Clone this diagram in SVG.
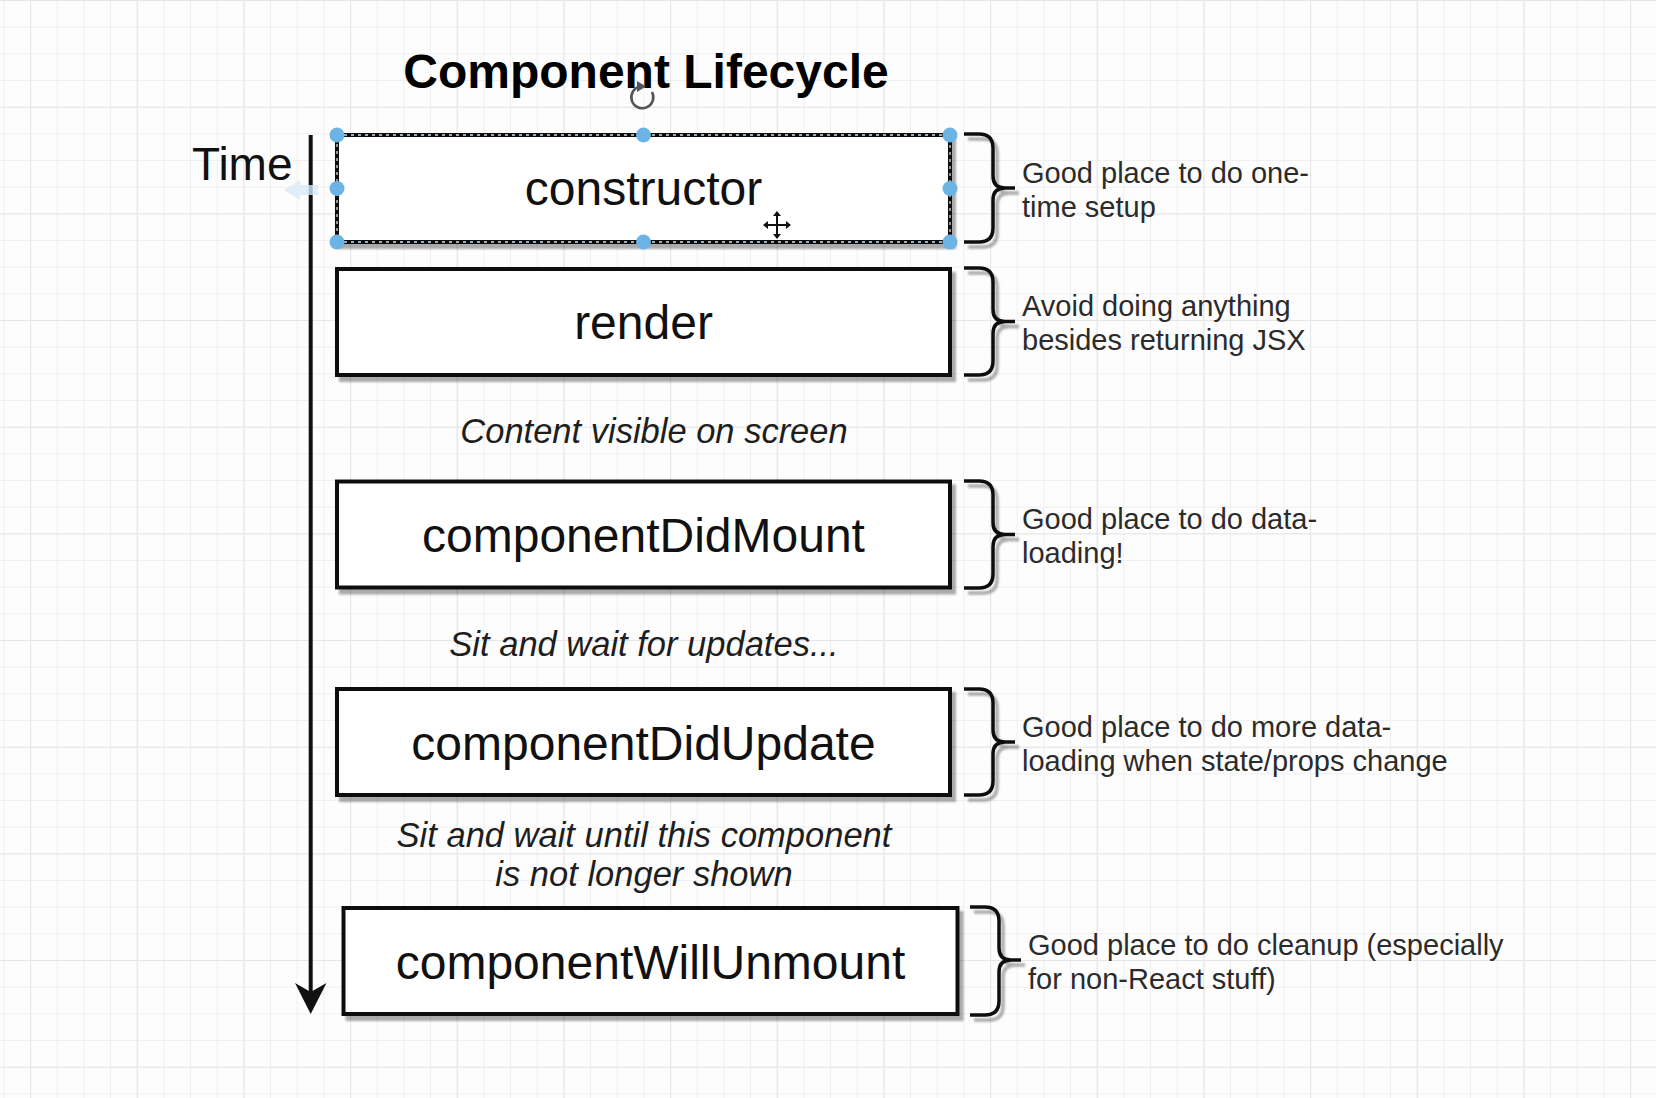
<svg xmlns="http://www.w3.org/2000/svg" width="1656" height="1098" viewBox="0 0 1656 1098">
  <defs>
    <pattern id="gridMinor" patternUnits="userSpaceOnUse" x="3.333" y="0" width="26.667" height="26.667">
      <path d="M0 0.5 H26.667 M0.5 0 V26.667" fill="none" stroke="#f0f0f0" stroke-width="1"/>
    </pattern>
    <pattern id="gridMajor" patternUnits="userSpaceOnUse" x="30" y="0" width="106.667" height="106.667">
      <path d="M0 0.5 H106.667 M0.5 0 V106.667" fill="none" stroke="#e6e6e6" stroke-width="1.2"/>
    </pattern>
    <filter id="shadow" x="-5%" y="-10%" width="115%" height="130%">
      <feDropShadow dx="4" dy="5" stdDeviation="1.3" flood-color="#000" flood-opacity="0.33"/>
    </filter>
  </defs>
  <style>
    .box { fill: #ffffff; stroke: #111; stroke-width: 4; filter: url(#shadow); }
    .brace { fill: none; stroke: #111; stroke-width: 3.5; stroke-linejoin: round; filter: url(#shadow); }
    .label { font-family: "Liberation Sans", Arial, sans-serif; font-size: 48px; fill: #111; text-anchor: middle; }
    .note { font-family: "Liberation Sans", Arial, sans-serif; font-size: 29px; fill: #2b2b2b; }
    .phase { font-family: "Liberation Sans", Arial, sans-serif; font-size: 34.5px; font-style: italic; fill: #1e1e1e; text-anchor: middle; }
    .handle { fill: #6db4e6; }
  </style>

  <!-- canvas grid -->
  <rect width="1656" height="1098" fill="#fdfdfd"/>
  <rect width="1656" height="1098" fill="url(#gridMinor)"/>
  <rect width="1656" height="1098" fill="url(#gridMajor)"/>

  <!-- heading and time axis label -->
  <text id="title" x="646" y="88" font-family="Liberation Sans, Arial, sans-serif" font-size="48" font-weight="bold" fill="#000" text-anchor="middle">Component Lifecycle</text>
  <text id="time-label" x="192" y="180" font-family="Liberation Sans, Arial, sans-serif" font-size="46" fill="#111">Time</text>

  <!-- connectors: time axis and braces -->
  <g id="connectors">
    <line x1="310.7" y1="135" x2="310.7" y2="993" stroke="#111" stroke-width="4"/>
    <polygon points="310.7,1014 295,983 310.7,992 326.5,983" fill="#111"/>
    <path class="brace" d="M964 134 H979 Q993 134 993 148 V176 Q993 188 1005 188 H1015 M1005 188 Q993 188 993 200 V228 Q993 242 979 242 H964"/>
    <path class="brace" d="M964 268 H979 Q993 268 993 282 V309.5 Q993 321.5 1005 321.5 H1015 M1005 321.5 Q993 321.5 993 333.5 V361 Q993 375 979 375 H964"/>
    <path class="brace" d="M964 481 H979 Q993 481 993 495 V522.5 Q993 534.5 1005 534.5 H1015 M1005 534.5 Q993 534.5 993 546.5 V574 Q993 588 979 588 H964"/>
    <path class="brace" d="M964 689 H979 Q993 689 993 703 V730 Q993 742 1005 742 H1015 M1005 742 Q993 742 993 754 V781 Q993 795 979 795 H964"/>
    <path class="brace" d="M970 907 H985 Q999 907 999 921 V948 Q999 960 1011 960 H1021 M1011 960 Q999 960 999 972 V1001 Q999 1015 985 1015 H970"/>
  </g>

  <!-- lifecycle steps -->
  <g id="node-constructor">
    <rect class="box" x="337" y="135" width="613" height="107"/>
    <rect x="337" y="135" width="613" height="107" fill="none" stroke="#cfe2f2" stroke-width="1.3" stroke-dasharray="3 4"/>
    <text class="label" x="643.5" y="205">constructor</text>
    <circle class="handle" cx="337" cy="135" r="7.5"/>
    <circle class="handle" cx="643.5" cy="135" r="7.5"/>
    <circle class="handle" cx="950" cy="135" r="7.5"/>
    <circle class="handle" cx="337" cy="188.5" r="7.5"/>
    <circle class="handle" cx="950" cy="188.5" r="7.5"/>
    <circle class="handle" cx="337" cy="242" r="7.5"/>
    <circle class="handle" cx="643.5" cy="242" r="7.5"/>
    <circle class="handle" cx="950" cy="242" r="7.5"/>
  </g>
  <g id="node-render">
    <rect class="box" x="337" y="269" width="613" height="106"/>
    <text class="label" x="643.5" y="339">render</text>
  </g>
  <g id="node-componentDidMount">
    <rect class="box" x="337" y="481.5" width="613" height="106"/>
    <text class="label" x="643.5" y="552">componentDidMount</text>
  </g>
  <g id="node-componentDidUpdate">
    <rect class="box" x="337" y="689" width="613" height="106"/>
    <text class="label" x="643.5" y="760">componentDidUpdate</text>
  </g>
  <g id="node-componentWillUnmount">
    <rect class="box" x="343.5" y="908" width="614" height="106"/>
    <text class="label" x="650.5" y="979">componentWillUnmount</text>
  </g>

  <!-- phase captions between steps -->
  <g id="phases">
    <text class="phase" x="654" y="443">Content visible on screen</text>
    <text class="phase" x="644" y="656">Sit and wait for updates...</text>
    <text class="phase" x="644" y="847">Sit and wait until this component</text>
    <text class="phase" x="644" y="886">is not longer shown</text>
  </g>

  <!-- notes beside braces -->
  <g id="notes">
    <text class="note" x="1022" y="183">Good place to do one-</text>
    <text class="note" x="1022" y="217">time setup</text>
    <text class="note" x="1022" y="316">Avoid doing anything</text>
    <text class="note" x="1022" y="350">besides returning JSX</text>
    <text class="note" x="1022" y="529">Good place to do data-</text>
    <text class="note" x="1022" y="563">loading!</text>
    <text class="note" x="1022" y="737">Good place to do more data-</text>
    <text class="note" x="1022" y="771">loading when state/props change</text>
    <text class="note" x="1028" y="955">Good place to do cleanup (especially</text>
    <text class="note" x="1028" y="989">for non-React stuff)</text>
  </g>

  <!-- editor overlays: rotate handle, hover arrow, move cursor -->
  <g id="rotate-handle" fill="none" stroke="#555" stroke-width="2.6">
    <path d="M652 92 A11 11 0 1 1 640 86.5"/>
    <polygon points="637,81 646,86.5 637,92" fill="#555" stroke="none"/>
  </g>
  <polygon id="hover-arrow" points="318,185 300,185 300,180 284,190 300,200 300,195 318,195" fill="#d8eaf8" opacity="0.8"/>
  <g id="move-cursor" stroke-linecap="round">
    <path d="M777 213 V237 M765 225 H789" stroke="#fff" stroke-width="5"/>
    <path d="M777 213 V237 M765 225 H789" stroke="#111" stroke-width="2"/>
    <polygon points="777,211 773,216 781,216" fill="#111"/>
    <polygon points="777,239 773,234 781,234" fill="#111"/>
    <polygon points="763,225 768,221 768,229" fill="#111"/>
    <polygon points="791,225 786,221 786,229" fill="#111"/>
  </g>
</svg>
